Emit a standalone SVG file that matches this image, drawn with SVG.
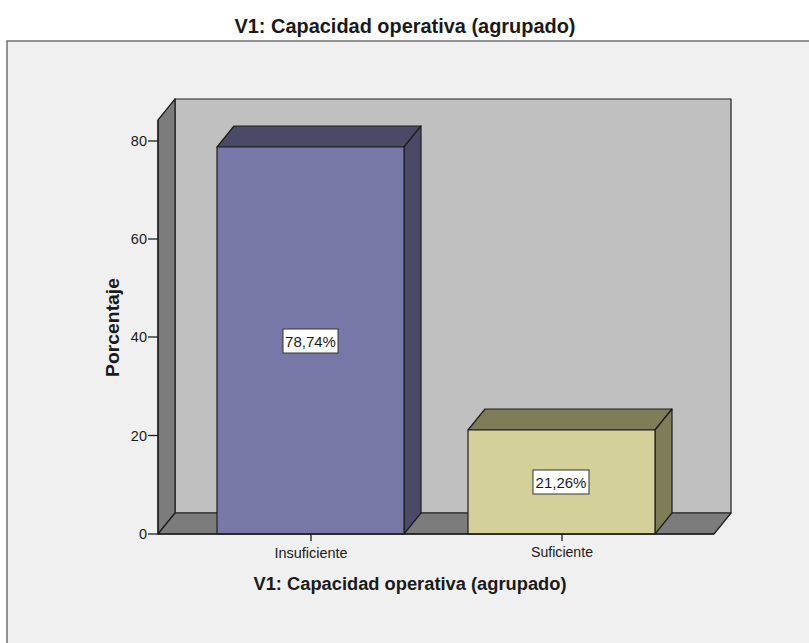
<svg xmlns="http://www.w3.org/2000/svg" width="809" height="643" viewBox="0 0 809 643">
<style>
.edge{stroke:#1e1e1e;stroke-width:1.2;stroke-linejoin:round}
.lbl{font-family:"Liberation Sans",Arial,sans-serif;fill:#1a1a1a}
.tick{font-size:14.5px;text-anchor:end}
.cat{font-size:14.5px;text-anchor:middle}
.pct{font-size:15px;text-anchor:middle}
.title{font-weight:bold;text-anchor:middle}
.axis{stroke:#1e1e1e;stroke-width:1.3;fill:none}
</style>
<rect x="0" y="0" width="809" height="643" fill="#ffffff"/>
<rect x="7" y="41" width="810" height="610" fill="#f0f0f0" stroke="#7a7a7a" stroke-width="1.6"/>
<text class="lbl title" x="405" y="33" font-size="20" textLength="341" lengthAdjust="spacingAndGlyphs">V1: Capacidad operativa (agrupado)</text>
<g id="frame3d">
<rect x="175" y="99" width="556" height="414" fill="#c0c0c0" class="edge"/>
<polygon points="158,120 175,99 175,513 158,534" fill="#7c7c7c" class="edge"/>
<polygon points="158,534 175,513 731,513 714,534" fill="#7c7c7c" class="edge"/>
</g>
<g id="bar-insuficiente">
<polygon points="217,147 234,126 421,126 404,147" fill="#4a4a68" class="edge"/>
<polygon points="404,147 421,126 421,513 404,534" fill="#4a4a68" class="edge"/>
<rect x="217" y="147" width="187" height="387" fill="#7878a8" class="edge"/>
<rect x="283" y="329" width="55" height="24" fill="#ffffff" stroke="#333" stroke-width="1"/>
<text class="lbl pct" x="310.5" y="346.5">78,74%</text>
</g>
<g id="bar-suficiente">
<polygon points="468,430 485,409 672,409 655,430" fill="#7f7d59" class="edge"/>
<polygon points="655,430 672,409 672,513 655,534" fill="#7f7d59" class="edge"/>
<rect x="468" y="430" width="187" height="104" fill="#d4d09a" class="edge"/>
<rect x="533" y="470" width="56" height="24" fill="#ffffff" stroke="#333" stroke-width="1"/>
<text class="lbl pct" x="561" y="487.5">21,26%</text>
</g>
<g id="axes">
<line class="axis" x1="158" y1="120" x2="158" y2="534"/>
<line class="axis" x1="158" y1="534" x2="714" y2="534"/>
<line class="axis" x1="148" y1="534" x2="158" y2="534"/>
<line class="axis" x1="148" y1="435.5" x2="158" y2="435.5"/>
<line class="axis" x1="148" y1="337" x2="158" y2="337"/>
<line class="axis" x1="148" y1="239" x2="158" y2="239"/>
<line class="axis" x1="148" y1="141" x2="158" y2="141"/>
<line class="axis" x1="311" y1="534" x2="311" y2="541"/>
<line class="axis" x1="562" y1="534" x2="562" y2="541"/>
<text class="lbl tick" x="147" y="539">0</text>
<text class="lbl tick" x="147" y="440.5">20</text>
<text class="lbl tick" x="147" y="342">40</text>
<text class="lbl tick" x="147" y="244">60</text>
<text class="lbl tick" x="147" y="146">80</text>
<text class="lbl cat" x="311" y="558" textLength="73" lengthAdjust="spacingAndGlyphs">Insuficiente</text>
<text class="lbl cat" x="562" y="557" textLength="62" lengthAdjust="spacingAndGlyphs">Suficiente</text>
<text class="lbl title" x="410" y="590" font-size="18" textLength="313" lengthAdjust="spacingAndGlyphs">V1: Capacidad operativa (agrupado)</text>
<text class="lbl title" transform="translate(119,327.5) rotate(-90)" x="0" y="0" font-size="19" textLength="99" lengthAdjust="spacingAndGlyphs">Porcentaje</text>
</g>
</svg>
